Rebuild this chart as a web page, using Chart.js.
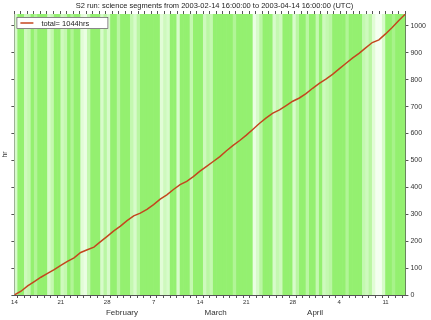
<!DOCTYPE html>
<html>
<head>
<meta charset="utf-8">
<script src="https://cdn.jsdelivr.net/npm/chart.js@4/dist/chart.umd.min.js"></script>
<style>
  html, body { margin: 0; padding: 0; background: #fff; }
  #wrap { width: 431px; height: 320px; }
</style>
</head>
<body>
<div id="wrap"><canvas id="c" width="431" height="320"></canvas></div>
<script>
// Science-mode duty fraction per half-day bin, starting 2003-02-14
const binDuty = [
  0.3, 1, 1, 0.4, 0.5, 1, 0.7, 1, 1, 1,
  0.3, 0.5, 1, 1, 0.4, 0.5, 1, 0.7, 1, 1,
  0.2, 0.1, 0.5, 1, 1, 1, 0.3, 0.6, 0.3, 1,
  1, 0.6, 1, 1, 1, 0.5, 0.3, 0.6, 1, 1,
  1, 1, 1, 1, 0.2, 0.4, 0.3, 1, 1, 0.3,
  1, 1, 1, 0.5, 1, 1, 1, 0.4, 0.6, 0.5,
  1, 1, 1, 1, 1, 1, 0.7, 1, 1, 1,
  1, 1, 0.1, 0.3, 0.6, 1, 1, 1, 0.3, 0.5,
  0.4, 1, 1, 1, 0.3, 0.6, 1, 1, 0.6, 1,
  1, 0.5, 1, 0.4, 0.5, 0.6, 1, 1, 1, 1,
  0.7, 1, 1, 1, 1, 0.5, 0.4, 0.6, 0.2, 0,
  0, 0.3, 1, 1, 0.8, 1, 1, 1
];

// Accumulated science time (hours) at the start of each day
const cumulativeHours = [
  0, 14, 34, 50, 66, 80, 94, 110, 125, 138,
  158, 168, 178, 198, 218, 238, 256, 276, 294, 304,
  318, 336, 356, 372, 392, 410, 422, 440, 460, 478,
  496, 514, 536, 556, 574, 594, 616, 638, 658, 676,
  688, 704, 720, 732, 748, 768, 786, 802, 820, 840,
  860, 880, 898, 918, 938, 948, 970, 994, 1020, 1044
];

// Weekly date labels along the time axis
const weekLabels = ['14', '21', '28', '7', '14', '21', '28', '4', '11'];
const monthNames = ['February', 'March', 'April'];
const monthCentres = [9.6, 30.8, 53.3];

const totalHours = 1044;
const legendLabel = 'total= ' + totalHours + 'hrs';
const titleText = 'S2 run: science segments from 2003-02-14 16:00:00 to 2003-04-14 16:00:00 (UTC)';

const FONT = "'Liberation Sans', Arial, sans-serif";
const PALE = [244, 255, 240];
const GREEN = [148, 240, 112];

function bandColour(f) {
  const c = PALE.map((p, k) => Math.round(p + (GREEN[k] - p) * f));
  return 'rgb(' + c.join(',') + ')';
}

const bandPoints = binDuty.map((f, i) => ({ x: i * 0.5 + 0.25, y: 1 }));
const linePoints = cumulativeHours.map((h, d) => ({ x: d, y: h }));

// Small framed legend drawn over the plot area, top-left
const boxedLegend = {
  id: 'boxedLegend',
  afterDatasetsDraw(chart) {
    const { ctx, chartArea } = chart;
    const ds = chart.data.datasets[1];
    const x0 = chartArea.left + 2, y0 = chartArea.top + 3;
    const w = 92, h = 12;
    ctx.save();
    ctx.fillStyle = '#ffffff';
    ctx.fillRect(x0, y0, w, h);
    ctx.strokeStyle = '#555';
    ctx.lineWidth = 0.7;
    ctx.strokeRect(x0 + 0.5, y0 + 0.5, w - 1, h - 1);
    ctx.strokeStyle = ds.borderColor;
    ctx.lineWidth = 1.5;
    ctx.beginPath();
    ctx.moveTo(x0 + 4, y0 + h / 2);
    ctx.lineTo(x0 + 17, y0 + h / 2);
    ctx.stroke();
    ctx.fillStyle = '#222';
    ctx.font = '7.5px ' + FONT;
    ctx.textBaseline = 'middle';
    ctx.fillText(ds.label, x0 + 25, y0 + h / 2 + 0.5);
    ctx.restore();
  }
};

const xTickFont = { family: FONT, size: 6, lineHeight: 1 };
const yTickFont = { family: FONT, size: 7, lineHeight: 1 };

new Chart(document.getElementById('c'), {
  type: 'bar',
  data: {
    datasets: [
      {
        type: 'bar',
        label: 'segments',
        data: bandPoints,
        xAxisID: 'x',
        yAxisID: 'yBand',
        backgroundColor: binDuty.map(bandColour),
        borderWidth: 0,
        barPercentage: 1,
        categoryPercentage: 1,
        order: 2
      },
      {
        type: 'line',
        label: legendLabel,
        data: linePoints,
        xAxisID: 'x',
        yAxisID: 'y',
        borderColor: '#c4461e',
        borderWidth: 1.5,
        pointRadius: 0,
        tension: 0,
        order: 1
      }
    ]
  },
  options: {
    responsive: false,
    animation: false,
    layout: { padding: { left: 1, right: 3, top: 0, bottom: 0 } },
    plugins: {
      legend: { display: false },
      tooltip: { enabled: false },
      title: {
        display: true,
        text: titleText,
        color: '#222',
        font: { family: FONT, size: 7.5, weight: 'normal' },
        padding: { top: 1, bottom: 1 }
      }
    },
    scales: {
      x: {
        type: 'linear',
        position: 'bottom',
        min: 0, max: 59,
        offset: false,
        weight: 0,
        grid: { display: true, drawOnChartArea: false, tickLength: 3, color: '#555' },
        border: { display: true, color: '#555', width: 1 },
        ticks: {
          stepSize: 1, autoSkip: false, maxRotation: 0, padding: 1,
          color: '#333', font: xTickFont,
          callback: (v) => (v % 7 === 0 ? weekLabels[v / 7] : '')
        }
      },
      xMonth: {
        type: 'linear',
        position: 'bottom',
        min: 0, max: 59,
        weight: 1,
        grid: { display: false, drawTicks: false },
        border: { display: false },
        afterBuildTicks: (s) => { s.ticks = monthCentres.map(v => ({ value: v })); },
        ticks: {
          autoSkip: false, maxRotation: 0, padding: 3,
          color: '#333', font: { family: FONT, size: 8, lineHeight: 1 },
          callback: (v, i) => monthNames[i]
        }
      },
      xTop: {
        type: 'linear',
        position: 'top',
        min: 0, max: 59,
        grid: { display: true, drawOnChartArea: false, tickLength: 3, color: '#555' },
        border: { display: true, color: '#555', width: 1 },
        ticks: { stepSize: 1, display: false, autoSkip: false }
      },
      y: {
        type: 'linear',
        position: 'right',
        min: 0, max: totalHours,
        grid: { display: true, drawOnChartArea: false, tickLength: 3, color: '#555' },
        border: { display: true, color: '#555', width: 1 },
        ticks: {
          stepSize: 100, includeBounds: false, padding: 2, color: '#333', font: yTickFont,
          callback: (v) => String(v)
        }
      },
      yLeft: {
        type: 'linear',
        position: 'left',
        min: 0, max: totalHours,
        grid: { display: true, drawOnChartArea: false, tickLength: 3, color: '#555' },
        border: { display: true, color: '#555', width: 1 },
        ticks: { stepSize: 100, includeBounds: false, display: false },
        title: {
          display: true, text: 'hr', color: '#333',
          font: { family: FONT, size: 7 },
          padding: { top: 0, bottom: 2 }
        }
      },
      yBand: {
        type: 'linear',
        display: false,
        min: 0, max: 1
      }
    }
  },
  plugins: [boxedLegend]
});
</script>
</body>
</html>
